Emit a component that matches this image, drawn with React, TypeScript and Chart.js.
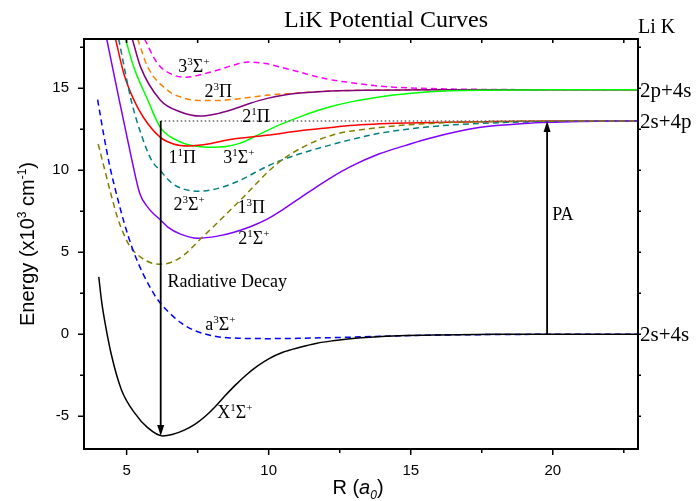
import React, { useEffect, useRef } from "react";
import { Chart, registerables } from "chart.js";
Chart.register(...registerables);

// ---- axes ----
const X_MIN = 3.5, X_MAX = 23, Y_MIN = -7, Y_MAX = 18;
const X_MAJOR = [5, 10, 15, 20];
const X_MINOR = [7.5, 12.5, 17.5, 22.5];
const X_ALL = [5, 7.5, 10, 12.5, 15, 17.5, 20, 22.5];
const Y_MAJOR = [-5, 0, 5, 10, 15];
const Y_MINOR = [-2.5, 2.5, 7.5, 12.5, 17.5];
const Y_ALL = [-5, -2.5, 0, 2.5, 5, 7.5, 10, 12.5, 15, 17.5];

// ---- curves (R in a0, E in 10^3 cm^-1) ----
const X1S_R = [4.02, 4.12, 4.23, 4.47, 4.82, 5.28, 5.74, 6.26, 6.6, 7.03, 7.4, 7.74, 8.1, 8.44, 8.8, 9.2, 9.6, 10.0, 10.5, 11.1, 11.7, 12.26, 12.86, 13.7, 14.6, 16, 18, 20, 23];
const X1S_E = [3.5, 2.0, 0.8, -1.3, -3.4, -4.8, -5.7, -6.2, -6.12, -5.85, -5.5, -5.05, -4.45, -3.8, -3.15, -2.5, -1.95, -1.5, -1.1, -0.8, -0.55, -0.4, -0.28, -0.17, -0.1, -0.05, -0.01, 0, 0];

const A3S_R = [3.98, 4.2, 4.4, 4.68, 4.93, 5.21, 5.56, 5.98, 6.23, 6.6, 6.93, 7.4, 8.2, 9.0, 10.0, 11.1, 12.86, 15, 18, 23];
const A3S_E = [14.3, 12.1, 10.3, 8.3, 6.7, 5.2, 3.75, 2.4, 1.8, 1.15, 0.67, 0.22, -0.15, -0.25, -0.27, -0.25, -0.18, -0.08, -0.02, 0];

const P13_R = [4.0, 4.16, 4.47, 4.68, 4.9, 5.1, 5.53, 5.9, 6.16, 6.6, 7.03, 7.6, 8.2, 9.0, 10.3, 11.2, 12.26, 13.9, 15.67, 18, 23];
const P13_E = [11.6, 10.5, 8.4, 7.1, 6.1, 5.4, 4.65, 4.33, 4.27, 4.4, 4.85, 5.8, 6.8, 8.17, 10.4, 11.4, 12.15, 12.6, 12.85, 12.97, 13.0];

const S21_R = [4.3, 4.75, 5.03, 5.2, 5.46, 5.74, 6.23, 6.44, 6.9, 7.5, 8.2, 8.75, 9.35, 9.93, 10.5, 11.1, 11.7, 12.2, 12.86, 13.9, 14.8, 15.67, 17.4, 19, 21, 23];
const S21_E = [18.0, 14.2, 11.9, 10.5, 8.6, 7.75, 6.9, 6.55, 6.1, 5.85, 5.98, 6.2, 6.55, 7.0, 7.6, 8.3, 9.0, 9.55, 10.2, 11.0, 11.5, 11.95, 12.6, 12.85, 12.97, 13.0];

const S23_R = [4.72, 5.17, 5.57, 5.88, 6.2, 6.6, 7.0, 7.45, 8.0, 8.75, 10.15, 11.1, 12.2, 12.86, 13.9, 15.67, 17.4, 20, 23];
const S23_E = [18.0, 14.2, 11.9, 10.6, 9.95, 9.2, 8.85, 8.72, 8.8, 9.2, 10.4, 11.0, 11.55, 11.85, 12.25, 12.65, 12.85, 12.97, 13.0];

const P11_R = [4.61, 4.9, 5.25, 5.6, 6.19, 6.65, 7.2, 7.7, 8.75, 9.93, 11.1, 12.2, 12.86, 15, 17.4, 20, 23];
const P11_E = [18.0, 15.9, 14.3, 13.2, 12.0, 11.6, 11.48, 11.55, 11.9, 12.13, 12.4, 12.6, 12.72, 12.88, 12.95, 13.0, 13.0];

const S31_R = [4.96, 5.25, 5.74, 6.19, 6.79, 7.3, 7.9, 8.5, 9.0, 9.63, 10.3, 11.1, 11.7, 12.2, 12.86, 13.9, 15.67, 17.4, 20, 23];
const S31_E = [18.0, 16.3, 14.3, 12.6, 11.8, 11.5, 11.4, 11.45, 11.65, 12.15, 12.7, 13.25, 13.62, 13.88, 14.15, 14.47, 14.78, 14.88, 14.9, 14.9];

const P21_R = [5.2, 5.49, 6.19, 6.9, 7.6, 8.2, 8.75, 9.35, 9.95, 10.5, 11.1, 12.2, 13.5, 16, 23];
const P21_E = [18.0, 16.3, 14.27, 13.55, 13.3, 13.45, 13.72, 14.08, 14.38, 14.57, 14.7, 14.83, 14.88, 14.9, 14.9];

const P23_R = [5.39, 5.74, 6.44, 7.0, 7.6, 8.2, 8.75, 9.35, 10.0, 11.1, 12.2, 13.5, 16, 23];
const P23_E = [18.0, 16.3, 14.88, 14.4, 14.25, 14.25, 14.32, 14.45, 14.58, 14.72, 14.83, 14.88, 14.9, 14.9];

const S33_R = [5.63, 6.09, 6.65, 7.1, 7.6, 8.2, 8.75, 9.28, 9.9, 10.5, 11.1, 11.7, 12.3, 12.86, 13.9, 15.67, 18, 23];
const S33_E = [18.0, 16.5, 15.8, 15.67, 15.82, 16.1, 16.4, 16.6, 16.5, 16.25, 15.98, 15.7, 15.48, 15.35, 15.12, 14.98, 14.92, 14.9];

const DOT_R = [6.2, 23];
const DOT_E = [13.0, 13.0];

// ---- arrows ----
const DECAY_R = 6.2, DECAY_FROM = 13.0, DECAY_TO = -6.2;
const PA_R = 19.8, PA_FROM = 0, PA_TO = 13.0;

// ---- texts ----
const TITLE = "LiK Potential Curves";
const CORNER = "Li K";
const Y_TITLE = "Energy (x10^{3} cm^{-1})";
const ASYMPTOTES = [
  { text: "2p+4s", e: 14.9 },
  { text: "2s+4p", e: 13.0 },
  { text: "2s+4s", e: 0 },
];
const CURVE_LABELS = [
  { text: "3^{3}Σ^{+}", r: 6.82, e: 15.98 },
  { text: "2^{3}Π", r: 7.74, e: 14.45 },
  { text: "2^{1}Π", r: 9.07, e: 12.93 },
  { text: "1^{1}Π", r: 6.47, e: 10.45 },
  { text: "3^{1}Σ^{+}", r: 8.4, e: 10.45 },
  { text: "2^{3}Σ^{+}", r: 6.65, e: 7.56 },
  { text: "1^{3}Π", r: 8.9, e: 7.4 },
  { text: "2^{1}Σ^{+}", r: 8.93, e: 5.49 },
  { text: "Radiative Decay", r: 6.44, e: 2.87 },
  { text: "a^{3}Σ^{+}", r: 7.77, e: 0.24 },
  { text: "X^{1}Σ^{+}", r: 8.19, e: -5.1 },
  { text: "PA", r: 19.98, e: 6.95 },
];

const SERIF = '"Liberation Serif", "Times New Roman", serif';
const SANS = '"Liberation Sans", Arial, sans-serif';

type Part = { t: string; s?: "sup" | "sub"; i?: boolean };
function parse(str: string): Part[] {
  const out: Part[] = [];
  let buf = "";
  let k = 0;
  while (k < str.length) {
    const c = str[k];
    if (c === "^" || c === "_") {
      if (buf) { out.push({ t: buf }); buf = ""; }
      const end = str.indexOf("}", k);
      out.push({ t: str.slice(k + 2, end), s: c === "^" ? "sup" : "sub" });
      k = end + 1;
    } else {
      buf += c;
      k++;
    }
  }
  if (buf) out.push({ t: buf });
  return out;
}

function richWidth(ctx: CanvasRenderingContext2D, parts: Part[], size: number, fam: string) {
  let w = 0;
  for (const p of parts) {
    const fs = p.s ? Math.round(size * 0.6) : size;
    ctx.font = `${p.i ? "italic " : ""}${fs}px ${fam}`;
    w += ctx.measureText(p.t).width;
  }
  return w;
}
function drawRich(ctx: CanvasRenderingContext2D, x: number, y: number, parts: Part[], size: number, fam: string) {
  let cx = x;
  for (const p of parts) {
    const fs = p.s ? Math.round(size * 0.6) : size;
    ctx.font = `${p.i ? "italic " : ""}${fs}px ${fam}`;
    const dy = p.s === "sup" ? -size * 0.4 : p.s === "sub" ? size * 0.25 : 0;
    ctx.fillText(p.t, cx, y + dy);
    cx += ctx.measureText(p.t).width;
  }
  return cx - x;
}

function ds(label: string, R: number[], E: number[], color: string, dash: number[] = [], width = 1.5) {
  return {
    label,
    data: R.map((r, i) => ({ x: r, y: E[i] })),
    borderColor: color,
    borderWidth: width,
    borderDash: dash,
    pointRadius: 0,
    fill: false,
    cubicInterpolationMode: "monotone" as const,
  };
}

const annotPlugin = {
  id: "annot",
  beforeDraw(chart: any) {
    const ctx = chart.ctx;
    ctx.save();
    ctx.fillStyle = "#fff";
    ctx.fillRect(0, 0, chart.width, chart.height);
    ctx.restore();
  },
  afterDatasetsDraw(chart: any) {
    const ctx: CanvasRenderingContext2D = chart.ctx;
    const xs = chart.scales.x, ys = chart.scales.y;
    const a = chart.chartArea;
    ctx.save();
    ctx.fillStyle = "#000";
    ctx.strokeStyle = "#000";

    // arrows
    const arrow = (r: number, from: number, to: number) => {
      const x = xs.getPixelForValue(r);
      const y1 = ys.getPixelForValue(from);
      const y2 = ys.getPixelForValue(to);
      const dir = y2 > y1 ? 1 : -1;
      ctx.lineWidth = 1.8;
      ctx.beginPath();
      ctx.moveTo(x, y1);
      ctx.lineTo(x, y2 - dir * 8);
      ctx.stroke();
      ctx.beginPath();
      ctx.moveTo(x, y2);
      ctx.lineTo(x - 3.5, y2 - dir * 11);
      ctx.lineTo(x + 3.5, y2 - dir * 11);
      ctx.closePath();
      ctx.fill();
    };
    arrow(DECAY_R, DECAY_FROM, DECAY_TO);
    arrow(PA_R, PA_FROM, PA_TO);

    // frame
    ctx.lineWidth = 2;
    ctx.strokeRect(a.left, a.top, a.right - a.left, a.bottom - a.top);

    // ticks
    ctx.lineWidth = 1.5;
    ctx.beginPath();
    for (const v of X_MAJOR) { const x = xs.getPixelForValue(v); ctx.moveTo(x, a.bottom); ctx.lineTo(x, a.bottom + 6); }
    for (const v of X_MINOR) { const x = xs.getPixelForValue(v); ctx.moveTo(x, a.bottom); ctx.lineTo(x, a.bottom + 4); }
    for (const v of X_ALL) { const x = xs.getPixelForValue(v); ctx.moveTo(x, a.top); ctx.lineTo(x, a.top + 4); }
    for (const v of Y_MAJOR) { const y = ys.getPixelForValue(v); ctx.moveTo(a.left, y); ctx.lineTo(a.left - 6, y); }
    for (const v of Y_MINOR) { const y = ys.getPixelForValue(v); ctx.moveTo(a.left, y); ctx.lineTo(a.left - 4, y); }
    for (const v of Y_ALL) { const y = ys.getPixelForValue(v); ctx.moveTo(a.right, y); ctx.lineTo(a.right + 3, y); }
    ctx.stroke();

    // tick labels
    ctx.font = `15px ${SANS}`;
    ctx.textBaseline = "middle";
    ctx.textAlign = "center";
    for (const v of X_MAJOR) ctx.fillText(String(v), xs.getPixelForValue(v), a.bottom + 22);
    ctx.textAlign = "right";
    for (const v of Y_MAJOR) ctx.fillText(String(v), a.left - 15, ys.getPixelForValue(v));

    // axis titles
    ctx.textBaseline = "alphabetic";
    ctx.textAlign = "left";
    const xParts: Part[] = [{ t: "R (" }, { t: "a", i: true }, { t: "0", s: "sub", i: true }, { t: ")" }];
    const xw = richWidth(ctx, xParts, 20, SANS);
    drawRich(ctx, 358 - xw / 2, 494, xParts, 20, SANS);

    const yParts = parse(Y_TITLE);
    const yw = richWidth(ctx, yParts, 20, SANS);
    ctx.save();
    ctx.translate(34, 244);
    ctx.rotate(-Math.PI / 2);
    drawRich(ctx, -yw / 2, 0, yParts, 20, SANS);
    ctx.restore();

    // title & corner
    ctx.font = `24px ${SERIF}`;
    ctx.textAlign = "center";
    ctx.fillText(TITLE, 386, 27);
    ctx.font = `20px ${SERIF}`;
    ctx.textAlign = "left";
    ctx.fillText(CORNER, 638, 33);

    // asymptote labels
    ctx.font = `21px ${SERIF}`;
    for (const l of ASYMPTOTES) ctx.fillText(l.text, a.right + 2, ys.getPixelForValue(l.e) + 7);

    // curve labels
    for (const l of CURVE_LABELS) {
      drawRich(ctx, xs.getPixelForValue(l.r), ys.getPixelForValue(l.e), parse(l.text), 18, SERIF);
    }
    ctx.restore();
  },
};

export default function App() {
  const ref = useRef<HTMLCanvasElement>(null);
  useEffect(() => {
    if (!ref.current) return;
    const chart = new Chart(ref.current, {
      type: "line",
      data: {
        datasets: [
          ds("dot", DOT_R, DOT_E, "#666", [1.5, 2.5], 1.3),
          ds("X1S", X1S_R, X1S_E, "#000000"),
          ds("a3S", A3S_R, A3S_E, "#0000ff", [6, 4]),
          ds("13P", P13_R, P13_E, "#808000", [6, 4]),
          ds("21S", S21_R, S21_E, "#8000ff"),
          ds("23S", S23_R, S23_E, "#008080", [6, 4]),
          ds("11P", P11_R, P11_E, "#ff0000"),
          ds("31S", S31_R, S31_E, "#00ff00"),
          ds("21P", P21_R, P21_E, "#800080"),
          ds("23P", P23_R, P23_E, "#ff8000", [6, 4]),
          ds("33S", S33_R, S33_E, "#ff00ff", [6, 4]),
        ] as any,
      },
      options: {
        animation: false,
        responsive: false,
        devicePixelRatio: 1,
        layout: { padding: { left: 84, right: 58, top: 39, bottom: 52 } },
        plugins: { legend: { display: false }, tooltip: { enabled: false }, title: { display: false } },
        scales: {
          x: { type: "linear", min: X_MIN, max: X_MAX, display: false },
          y: { type: "linear", min: Y_MIN, max: Y_MAX, display: false },
        },
      },
      plugins: [annotPlugin],
    });
    return () => chart.destroy();
  }, []);
  return (
    <div style={{ position: "absolute", left: 0, top: 0, width: 696, height: 501 }}>
      <canvas ref={ref} width={696} height={501} style={{ width: 696, height: 501 }} />
    </div>
  );
}
